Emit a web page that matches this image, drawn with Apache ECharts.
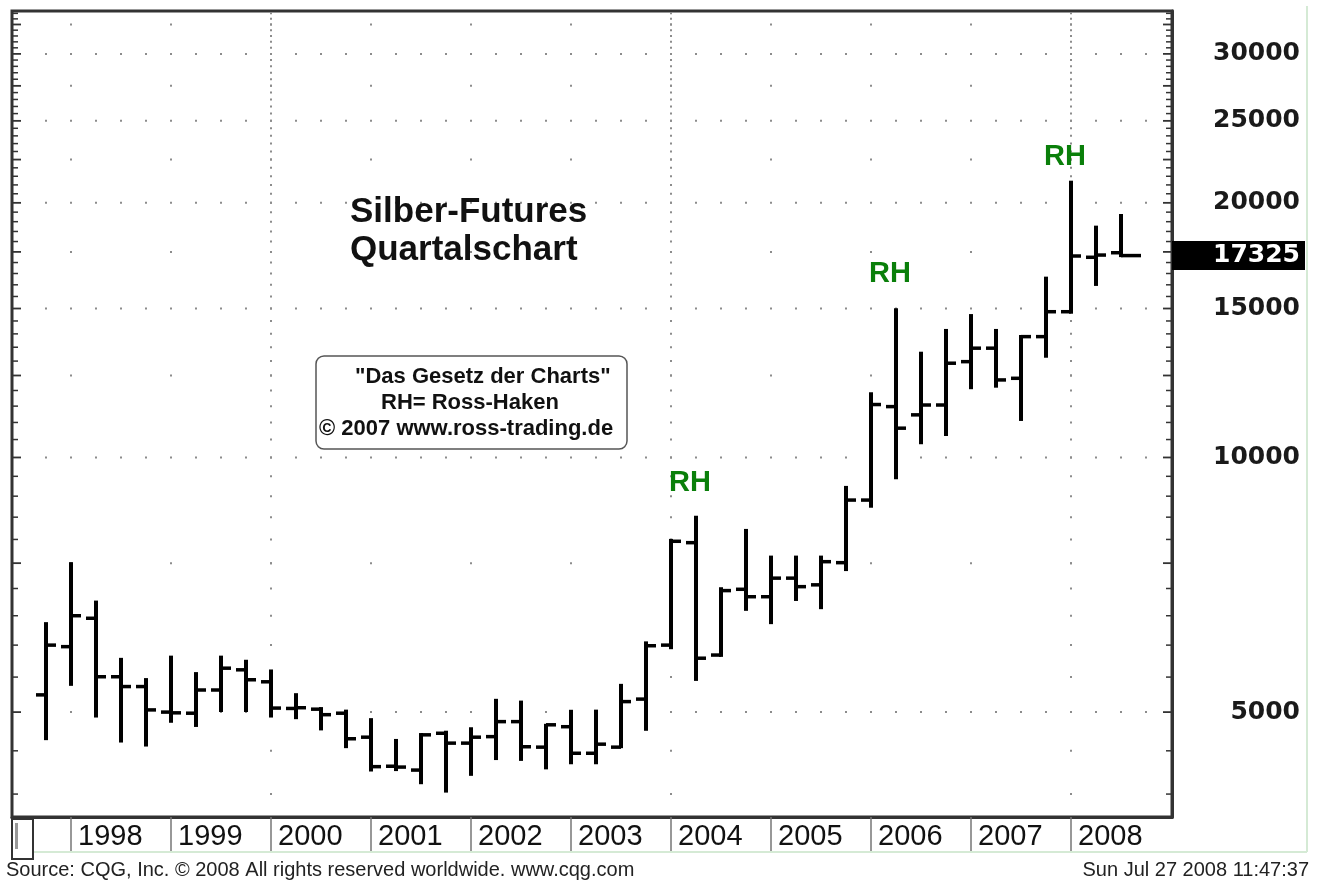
<!DOCTYPE html>
<html><head><meta charset="utf-8">
<script src="https://cdn.jsdelivr.net/npm/echarts@6/dist/echarts.min.js"></script>
<style>html,body{margin:0;padding:0;background:#fff}#c{width:1322px;height:880px}</style>
</head><body><div id="c"></div>
<script>
// ---- data ----
const quarters = ['1997Q4',
 '1998Q1','1998Q2','1998Q3','1998Q4','1999Q1','1999Q2','1999Q3','1999Q4',
 '2000Q1','2000Q2','2000Q3','2000Q4','2001Q1','2001Q2','2001Q3','2001Q4',
 '2002Q1','2002Q2','2002Q3','2002Q4','2003Q1','2003Q2','2003Q3','2003Q4',
 '2004Q1','2004Q2','2004Q3','2004Q4','2005Q1','2005Q2','2005Q3','2005Q4',
 '2006Q1','2006Q2','2006Q3','2006Q4','2007Q1','2007Q2','2007Q3','2007Q4',
 '2008Q1','2008Q2','2008Q3'];
const openV  = [5240, 5975,6455,5505,5360, 5000,4985,5310,5610, 5430,5050,5040,4985, 4670,4315,4270,4720,
 4595,4677,4872,4545, 4805,4470,4545,5180, 6000,7930,5840,6985, 6845,7200,7070,7510,
 8905,11485,11230,11535, 12980,13465,12405,13895, 14870,17245,17460];
const highV  = [6370, 7500,6755,5780,5470, 5815,5560,5815,5750, 5600,5250,5055,5020, 4905,4635,4710,4740,
 4785,5170,5145,4830, 5018,5020,5385,6045, 7990,8510,7005,8210, 7635,7635,7635,9230,
 11910,14970,13300,14150, 14735,14150,13920,16315, 21185,18745,19350];
const lowV   = [4645, 5385,4940,4615,4565, 4870,4815,5015,5015, 4940,4918,4770,4545, 4265,4270,4120,4027,
 4215,4400,4390,4290, 4350,4350,4545,4765, 5950,5458,5827,6605, 6370,6785,6635,7360,
 8745,9450,10395,10630, 12075,12125,11075,13155, 14830,15995,17300];
const closeV = [6000, 6500,5505,5360,5030, 4990,5310,5635,5460, 5055,5060,4965,4650, 4310,4305,4700,4595,
 4670,4872,4550,4830, 4470,4582,5145,5990, 7960,5790,6960,6845, 7200,7035,7530,8905,
 11550,10830,11535,12925, 13465,12350,13895,14870, 17305,17350,17325];
const yearTicks = [1998,1999,2000,2001,2002,2003,2004,2005,2006,2007,2008];
const priceLabels = [5000,10000,15000,20000,25000,30000];
const midLevels = [7500,12500,17500,22500,27500,32500];
const lastPrice = 17325;
const rhQuarters = ['2004Q2','2006Q2','2008Q1'];
const fourYearLines = [2000,2004,2008];

// ---- helpers ----
const X_MIN = 1997.41, X_MAX = 2009.01;
const Y_MIN = 3758, Y_MAX = 33715;
const tOf = q => +q.slice(0,4) + (+q.slice(5) - 1) / 4;
const minorTicks = []; for (let v = 4000; v <= 33500; v += 500) minorTicks.push(v);
const quarterPos = quarters.map(tOf).concat([tOf('2008Q4')]);

const dots = [];
priceLabels.forEach(v => quarterPos.forEach(t => dots.push([t, v])));
midLevels.forEach(v => yearTicks.forEach(t => dots.push([t, v])));
fourYearLines.forEach(t => minorTicks.forEach(v => dots.push([t, v])));

const majorLevels = priceLabels.concat(midLevels);
const edgeTickItems = (x, dir) => minorTicks.map(v => {
  const major = majorLevels.indexOf(v) >= 0;
  const len = major ? 9 : 6;
  return { value: [x, v], symbolSize: [len, major ? 1.8 : 1.5], symbolOffset: [dir * len / 2, 0] };
});

const ohlc = quarters.map((q, i) => [tOf(q), openV[i], highV[i], lowV[i], closeV[i]]);
const rhOffsets = [[-6, -34], [-6, -35], [-6, -25]];
const rhData = rhQuarters.map((q, k) => {
  const i = quarters.indexOf(q);
  return { value: [tOf(q), highV[i]], label: { offset: rhOffsets[k] } };
});

const yBase = { type: 'log', logBase: 10, min: Y_MIN, max: Y_MAX, splitLine: { show: false } };
const tickSeries = (name, data) => ({
  type: 'scatter', name, silent: true, z: 3, clip: false,
  symbol: 'rect', itemStyle: { color: '#333', opacity: 1 },
  data
});

const chart = echarts.init(document.getElementById('c'), null, { renderer: 'canvas' });
chart.setOption({
  animation: false,
  backgroundColor: '#fff',
  grid: { left: 12, right: 150, top: 11, bottom: 63, show: true, borderColor: '#333', borderWidth: 3, backgroundColor: 'transparent' },
  xAxis: {
    type: 'value', min: X_MIN, max: X_MAX,
    splitLine: { show: false },
    axisLine: { show: true, onZero: false, lineStyle: { color: '#333', width: 3 } },
    axisTick: { show: true, customValues: yearTicks, length: 34, inside: false, lineStyle: { color: '#777', width: 1.5 } },
    axisLabel: { show: true, customValues: yearTicks, formatter: v => String(Math.round(v)), align: 'left', padding: [0,0,0,7],
      margin: 5, fontSize: 29, color: '#111', fontFamily: 'Liberation Sans, Arial, sans-serif' }
  },
  yAxis: [
    Object.assign({}, yBase, {
      position: 'right',
      axisLine: { show: true, onZero: false, lineStyle: { color: '#333', width: 3 } },
      axisTick: { show: false },
      axisLabel: { show: true, customValues: priceLabels.concat([lastPrice]), align: 'right', margin: 133,
        formatter: v => (Math.round(v) === lastPrice ? '{p|' + lastPrice + '}' : '{n|' + Math.round(v) + '}'),
        rich: {
          n: { fontSize: 25, fontWeight: 'bold', color: '#1a1a1a', fontFamily: 'DejaVu Sans', padding: [0,5,0,0] },
          p: { fontSize: 25, fontWeight: 'bold', color: '#fff', fontFamily: 'DejaVu Sans', backgroundColor: '#000', padding: [2,5,2,41], lineHeight: 21 }
        } }
    })
  ],
  series: [
    {
      type: 'scatter', name: 'grid', silent: true, z: 1, clip: false,
      symbol: 'rect', symbolSize: 2, itemStyle: { color: '#8c8c8c', opacity: 1 },
      data: dots
    },
    tickSeries('leftTicks', edgeTickItems(X_MIN, 1)),
    tickSeries('rightTicks', edgeTickItems(X_MAX, -1)),
    {
      type: 'custom', name: 'Silber', z: 5,
      encode: { x: 0, y: [1,2,3,4] },
      data: ohlc,
      renderItem: (params, api) => {
        const t = api.value(0);
        const pO = api.coord([t, api.value(1)]);
        const pH = api.coord([t, api.value(2)]);
        const pL = api.coord([t, api.value(3)]);
        const pC = api.coord([t, api.value(4)]);
        const x = Math.round(pH[0]);
        const last = params.dataIndex === quarters.length - 1;
        return { type: 'group', children: [
          { type: 'line', shape: { x1: x, y1: pH[1] - 1, x2: x, y2: pL[1] + 1 }, style: { stroke: '#000', lineWidth: 4 } },
          { type: 'line', shape: { x1: x - 10, y1: pO[1], x2: x, y2: pO[1] }, style: { stroke: '#000', lineWidth: 3.5 } },
          { type: 'line', shape: { x1: x, y1: pC[1], x2: x + (last ? 20 : 10), y2: pC[1] }, style: { stroke: '#000', lineWidth: 3.5 } }
        ] };
      }
    },
    {
      type: 'scatter', name: 'RH', silent: true, z: 6,
      symbolSize: 0, itemStyle: { opacity: 1, color: '#0a7f0a' },
      label: { show: true, position: 'inside', formatter: 'RH', color: '#0a7f0a', opacity: 1, fontSize: 29, fontWeight: 'bold',
        fontFamily: 'Liberation Sans, Arial, sans-serif' },
      data: rhData
    }
  ],
  graphic: [
    // outer light-green frame
    { type: 'line', shape: { x1: 33, y1: 852, x2: 1307, y2: 852 }, style: { stroke: '#d5ead5', lineWidth: 2 }, z: 0 },
    { type: 'line', shape: { x1: 1307, y1: 6, x2: 1307, y2: 852 }, style: { stroke: '#d5ead5', lineWidth: 2 }, z: 0 },
    // small box bottom-left
    { type: 'rect', shape: { x: 12, y: 819, width: 21, height: 40 }, style: { fill: '#fff', stroke: '#333', lineWidth: 2 }, z: 10 },
    { type: 'rect', shape: { x: 15, y: 823, width: 3, height: 26 }, style: { fill: '#999' }, z: 11 },
    // title
    { type: 'text', left: 350, top: 195, z: 10, style: { text: 'Silber-Futures', font: 'bold 35px "Liberation Sans", Arial, sans-serif', fill: '#111' } },
    { type: 'text', left: 350, top: 233, z: 10, style: { text: 'Quartalschart', font: 'bold 35px "Liberation Sans", Arial, sans-serif', fill: '#111' } },
    // info box
    { type: 'rect', shape: { x: 316, y: 356, width: 311, height: 93, r: 8 }, style: { fill: '#fff', stroke: '#555', lineWidth: 1.5 }, z: 10 },
    { type: 'text', left: 355, top: 366, z: 11, style: { text: '"Das Gesetz der Charts"', font: 'bold 22px "Liberation Sans", Arial, sans-serif', fill: '#111' } },
    { type: 'text', left: 381, top: 392, z: 11, style: { text: 'RH= Ross-Haken', font: 'bold 22px "Liberation Sans", Arial, sans-serif', fill: '#111' } },
    { type: 'text', left: 319, top: 418, z: 11, style: { text: '\u00a9 2007 www.ross-trading.de', font: 'bold 22px "Liberation Sans", Arial, sans-serif', fill: '#111' } },
    // footer
    { type: 'text', left: 6, top: 860, z: 10, style: { text: 'Source: CQG, Inc. \u00a9 2008 All rights reserved worldwide. www.cqg.com', font: '20px "Liberation Sans", Arial, sans-serif', fill: '#222' } },
    { type: 'text', right: 13, top: 860, z: 10, style: { text: 'Sun Jul 27 2008 11:47:37', font: '20px "Liberation Sans", Arial, sans-serif', fill: '#222' } }
  ]
});
</script>
</body></html>
